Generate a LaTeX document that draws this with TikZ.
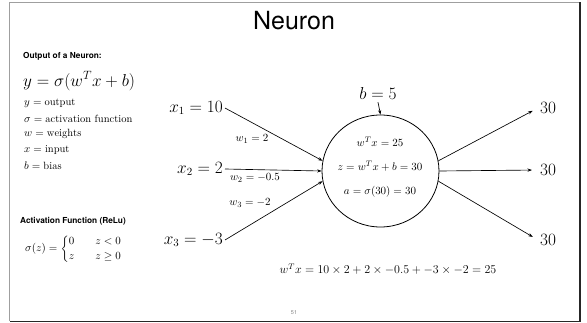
\documentclass[tikz,border=0pt]{standalone}
\usepackage{amsmath}
\usepackage{fontspec}
\setsansfont{TeX Gyre Heros}
\usetikzlibrary{arrows.meta,shapes.geometric}
\tikzset{
  conn/.style={draw, line width=0.65pt, -{Stealth[length=4.5pt,width=3.2pt]}},
  heading/.style={font=\sffamily\bfseries\fontsize{8.3}{9}\selectfont, anchor=west, inner sep=0pt},
  listtxt/.style={font=\fontsize{10.5}{12}\selectfont, anchor=west, inner sep=0pt},
  iotxt/.style={font=\fontsize{16}{18}\selectfont, inner sep=2pt},
  wtxt/.style={font=\fontsize{11}{13}\selectfont, inner sep=0pt},
  celltxt/.style={font=\fontsize{11}{13}\selectfont, inner sep=0pt},
}
\begin{document}
\begin{tikzpicture}[x=1pt,y=-1pt]
\useasboundingbox (0,0) rectangle (587,323);
% frame
\draw[gray!75, line width=1.6pt] (9.5,321.5) -- (9.5,2.5) -- (580,2.5);
\draw[black!85, line width=1.6pt] (580,2.5) -- (580,321.5) -- (9.5,321.5);
% title
\node[font=\sffamily\fontsize{25}{28}\selectfont, inner sep=0pt] (title) at (294,21) {Neuron};
% left column
\node[heading] (h1) at (23,56) {Output of a Neuron:};
\node[font=\fontsize{17.5}{20}\selectfont, anchor=west, inner sep=0pt] (eq) at (23,81) {$y=\sigma(w^Tx+b)$};
\node[listtxt] (l1) at (24,103) {$y=\mathrm{output}$};
\node[listtxt] (l2) at (24,118.5) {$\sigma=\mathrm{activation\ function}$};
\node[listtxt] (l3) at (24,134) {$w=\mathrm{weights}$};
\node[listtxt] (l4) at (24,150) {$x=\mathrm{input}$};
\node[listtxt] (l5) at (24,166) {$b=\mathrm{bias}$};
\node[heading] (h2) at (20,221) {Activation Function (ReLu)};
\node[listtxt] (relu) at (25,249) {$\sigma(z)=\begin{cases}0 & \quad z<0\\ z & \quad z\geq 0\end{cases}$};
% neuron
\node[draw, ellipse, line width=0.8pt, minimum width=117pt, minimum height=112pt] (neuron) at (380.5,171) {};
\node[celltxt] (c1) at (380,142) {$w^Tx=25$};
\node[celltxt] (c2) at (380,166) {$z=w^Tx+b=30$};
\node[celltxt] (c3) at (380,192) {$a=\sigma(30)=30$};
% bias
\node[iotxt] (b) at (378,94) {$b=5$};
\draw[conn] (b.south) -- (neuron.north);
% inputs
\node[iotxt, anchor=east] (x1) at (225,108) {$x_1=10$};
\node[iotxt, anchor=east] (x2) at (225,169) {$x_2=2$};
\node[iotxt, anchor=east] (x3) at (225,240) {$x_3=-3$};
\draw[conn] (x1.east) -- (neuron.170);
\draw[conn] (x2.east) -- (neuron.west);
\draw[conn] (x3.east) -- (neuron.190);
\node[wtxt] (w1) at (252,139) {$w_1=2$};
\node[wtxt] (w2) at (255,178) {$w_2=-0.5$};
\node[wtxt] (w3) at (250,203) {$w_3=-2$};
% outputs
\node[iotxt, anchor=west] (o1) at (538,108) {$30$};
\node[iotxt, anchor=west] (o2) at (538,170) {$30$};
\node[iotxt, anchor=west] (o3) at (538,240) {$30$};
\draw[conn, shorten >=6pt] (neuron.10) -- (o1.west);
\draw[conn, shorten >=6pt] (neuron.east) -- (o2.west);
\draw[conn, shorten >=6pt] (neuron.350) -- (o3.west);
% bottom equation
\node[font=\fontsize{12}{14}\selectfont, inner sep=0pt] (sum) at (388,269) {$w^Tx=10\times2+2\times-0.5+-3\times-2=25$};
% page number
\node[font=\sffamily\fontsize{5.5}{6}\selectfont, text=gray, inner sep=0pt] (page) at (294,313) {51};
\end{tikzpicture}
\end{document}
